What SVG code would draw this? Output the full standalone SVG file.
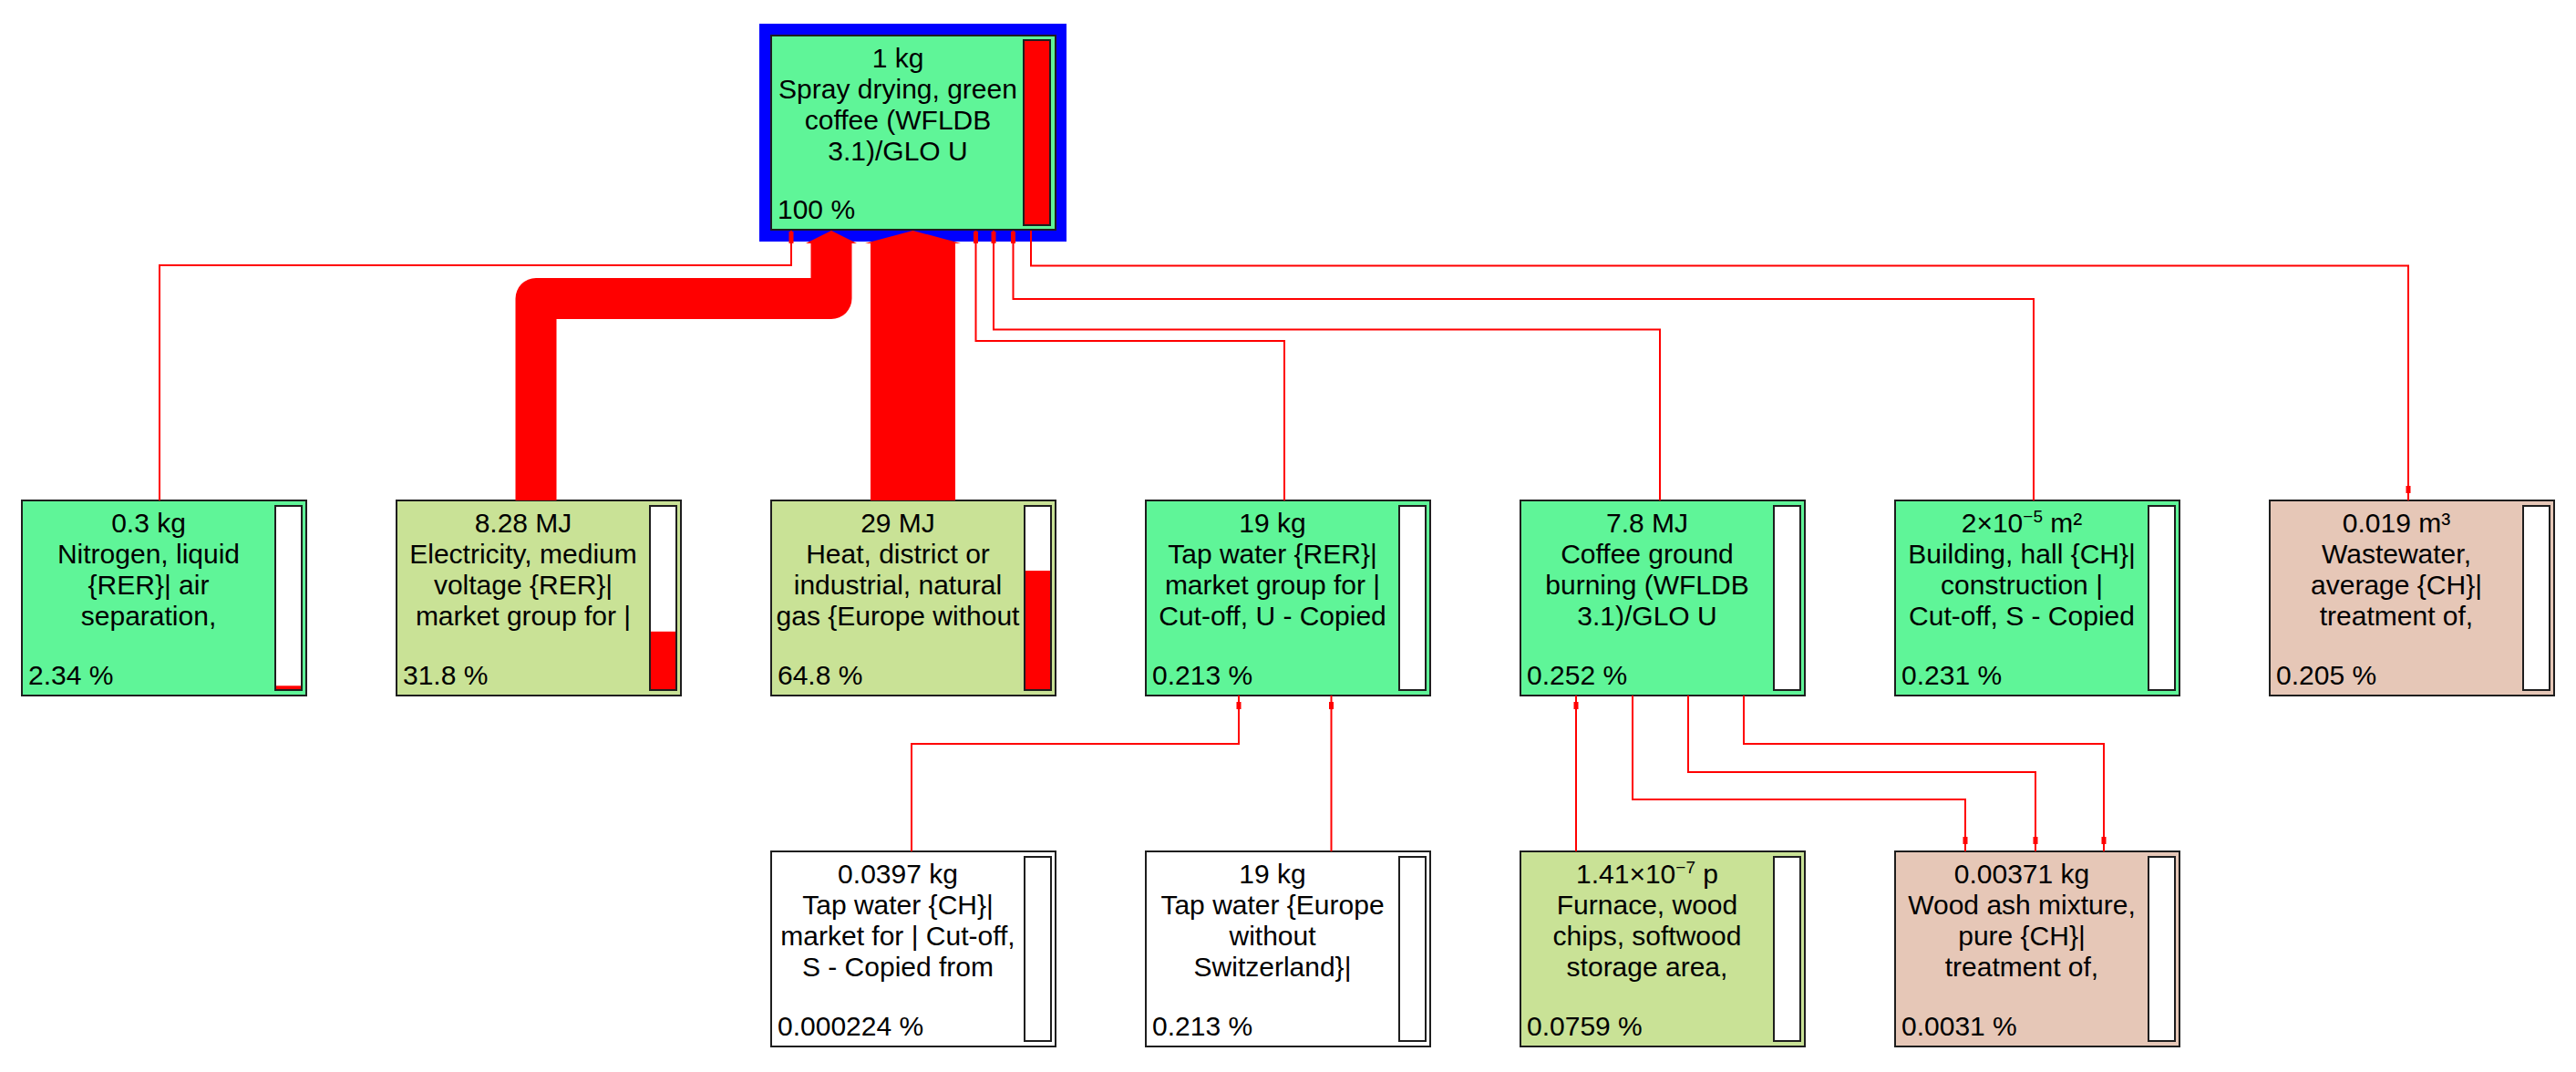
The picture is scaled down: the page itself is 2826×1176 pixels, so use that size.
<svg xmlns="http://www.w3.org/2000/svg" width="2826" height="1176" viewBox="0 0 2826 1176">
<style>
.box{stroke:#1e1e1e;stroke-width:2}
.g{fill:#5ff598}.o{fill:#c9e296}.p{fill:#e6c7b7}.w{fill:#ffffff}
.barbg{fill:#ffffff}
.barol{fill:none;stroke:#1e1e1e;stroke-width:2}
.rf{fill:#ff0000}
text{font-family:"Liberation Sans",Arial,sans-serif;font-size:30px;fill:#000000}
.c{text-anchor:middle}
.ln{fill:none;stroke:#ff0000;stroke-width:2}
.mk{fill:#ff0000}
.wide{fill:none;stroke:#ff0000;stroke-linejoin:round}
</style>
<rect width="2826" height="1176" fill="#ffffff"/>

<g id="n-spray" >
<rect x="833" y="26" width="337" height="239" fill="#0000ff"/>
<g transform="translate(846,39)">
<rect class="box g" width="312" height="213"/>
<rect class="rf" x="277" y="5" width="29" height="203"/>
<rect class="barol" x="277" y="5" width="29" height="203"/>
<text class="c" x="139" y="35">1 kg</text>
<text class="c" x="139" y="69">Spray drying, green</text>
<text class="c" x="139" y="103">coffee (WFLDB</text>
<text class="c" x="139" y="137">3.1)/GLO U</text>
<text x="7" y="201">100 %</text>
</g>
</g>

<g id="n-nitrogen" transform="translate(24,549)">
<rect class="box g" width="312" height="214"/>
<rect class="barbg" x="278" y="6" width="29" height="202"/>
<rect class="rf" x="278" y="203.3" width="29" height="4.7"/>
<rect class="barol" x="278" y="6" width="29" height="202"/>
<text class="c" x="139" y="35">0.3 kg</text>
<text class="c" x="139" y="69">Nitrogen, liquid</text>
<text class="c" x="139" y="103">{RER}| air</text>
<text class="c" x="139" y="137">separation,</text>
<text x="7" y="202">2.34 %</text>
</g>

<g id="n-electricity" transform="translate(435,549)">
<rect class="box o" width="312" height="214"/>
<rect class="barbg" x="278" y="6" width="29" height="202"/>
<rect class="rf" x="278" y="143.8" width="29" height="64.2"/>
<rect class="barol" x="278" y="6" width="29" height="202"/>
<text class="c" x="139" y="35">8.28 MJ</text>
<text class="c" x="139" y="69">Electricity, medium</text>
<text class="c" x="139" y="103">voltage {RER}|</text>
<text class="c" x="139" y="137">market group for |</text>
<text x="7" y="202">31.8 %</text>
</g>

<g id="n-heat" transform="translate(846,549)">
<rect class="box o" width="312" height="214"/>
<rect class="barbg" x="278" y="6" width="29" height="202"/>
<rect class="rf" x="278" y="77.1" width="29" height="130.9"/>
<rect class="barol" x="278" y="6" width="29" height="202"/>
<text class="c" x="139" y="35">29 MJ</text>
<text class="c" x="139" y="69">Heat, district or</text>
<text class="c" x="139" y="103">industrial, natural</text>
<text class="c" x="139" y="137">gas {Europe without</text>
<text x="7" y="202">64.8 %</text>
</g>

<g id="n-tapwater-rer" transform="translate(1257,549)">
<rect class="box g" width="312" height="214"/>
<rect class="barbg" x="278" y="6" width="29" height="202"/>
<rect class="barol" x="278" y="6" width="29" height="202"/>
<text class="c" x="139" y="35">19 kg</text>
<text class="c" x="139" y="69">Tap water {RER}|</text>
<text class="c" x="139" y="103">market group for |</text>
<text class="c" x="139" y="137">Cut-off, U - Copied</text>
<text x="7" y="202">0.213 %</text>
</g>

<g id="n-coffee-ground" transform="translate(1668,549)">
<rect class="box g" width="312" height="214"/>
<rect class="barbg" x="278" y="6" width="29" height="202"/>
<rect class="barol" x="278" y="6" width="29" height="202"/>
<text class="c" x="139" y="35">7.8 MJ</text>
<text class="c" x="139" y="69">Coffee ground</text>
<text class="c" x="139" y="103">burning (WFLDB</text>
<text class="c" x="139" y="137">3.1)/GLO U</text>
<text x="7" y="202">0.252 %</text>
</g>

<g id="n-building" transform="translate(2079,549)">
<rect class="box g" width="312" height="214"/>
<rect class="barbg" x="278" y="6" width="29" height="202"/>
<rect class="barol" x="278" y="6" width="29" height="202"/>
<text class="c" x="139" y="35">2×10<tspan font-size="19" dy="-11">−5</tspan><tspan dy="11"> m²</tspan></text>
<text class="c" x="139" y="69">Building, hall {CH}|</text>
<text class="c" x="139" y="103">construction |</text>
<text class="c" x="139" y="137">Cut-off, S - Copied</text>
<text x="7" y="202">0.231 %</text>
</g>

<g id="n-wastewater" transform="translate(2490,549)">
<rect class="box p" width="312" height="214"/>
<rect class="barbg" x="278" y="6" width="29" height="202"/>
<rect class="barol" x="278" y="6" width="29" height="202"/>
<text class="c" x="139" y="35">0.019 m³</text>
<text class="c" x="139" y="69">Wastewater,</text>
<text class="c" x="139" y="103">average {CH}|</text>
<text class="c" x="139" y="137">treatment of,</text>
<text x="7" y="202">0.205 %</text>
</g>

<g id="n-tapwater-ch" transform="translate(846,934)">
<rect class="box w" width="312" height="214"/>
<rect class="barbg" x="278" y="6" width="29" height="202"/>
<rect class="barol" x="278" y="6" width="29" height="202"/>
<text class="c" x="139" y="35">0.0397 kg</text>
<text class="c" x="139" y="69">Tap water {CH}|</text>
<text class="c" x="139" y="103">market for | Cut-off,</text>
<text class="c" x="139" y="137">S - Copied from</text>
<text x="7" y="202">0.000224 %</text>
</g>

<g id="n-tapwater-eu" transform="translate(1257,934)">
<rect class="box w" width="312" height="214"/>
<rect class="barbg" x="278" y="6" width="29" height="202"/>
<rect class="barol" x="278" y="6" width="29" height="202"/>
<text class="c" x="139" y="35">19 kg</text>
<text class="c" x="139" y="69">Tap water {Europe</text>
<text class="c" x="139" y="103">without</text>
<text class="c" x="139" y="137">Switzerland}|</text>
<text x="7" y="202">0.213 %</text>
</g>

<g id="n-furnace" transform="translate(1668,934)">
<rect class="box o" width="312" height="214"/>
<rect class="barbg" x="278" y="6" width="29" height="202"/>
<rect class="barol" x="278" y="6" width="29" height="202"/>
<text class="c" x="139" y="35">1.41×10<tspan font-size="19" dy="-11">−7</tspan><tspan dy="11"> p</tspan></text>
<text class="c" x="139" y="69">Furnace, wood</text>
<text class="c" x="139" y="103">chips, softwood</text>
<text class="c" x="139" y="137">storage area,</text>
<text x="7" y="202">0.0759 %</text>
</g>

<g id="n-woodash" transform="translate(2079,934)">
<rect class="box p" width="312" height="214"/>
<rect class="barbg" x="278" y="6" width="29" height="202"/>
<rect class="barol" x="278" y="6" width="29" height="202"/>
<text class="c" x="139" y="35">0.00371 kg</text>
<text class="c" x="139" y="69">Wood ash mixture,</text>
<text class="c" x="139" y="103">pure {CH}|</text>
<text class="c" x="139" y="137">treatment of,</text>
<text x="7" y="202">0.0031 %</text>
</g>

<g id="connectors">
<path class="wide" stroke-width="45" d="M588,549 V327.5 H912 V266"/>
<polygon class="mk" points="884,267 912,253 940,267"/>
<path class="wide" stroke-width="93" d="M1001.5,549 V266"/>
<polygon class="mk" points="949,267 1001.5,253 1054,267"/>
<path class="ln" d="M175,549 V291 H868 V253"/>
<rect class="mk" x="865.5" y="254" width="5" height="13"/>
<path class="ln" d="M1409,549 V374 H1070.5 V253"/>
<rect class="mk" x="1068" y="254" width="5" height="13"/>
<path class="ln" d="M1821,549 V361.5 H1090 V253"/>
<rect class="mk" x="1087.5" y="254" width="5" height="13"/>
<path class="ln" d="M2231,549 V328 H1111.5 V253"/>
<rect class="mk" x="1109" y="254" width="5" height="13"/>
<path class="ln" d="M1131,253 V291.5 H2642 V549"/>
<rect class="mk" x="2639.5" y="533" width="5" height="8"/>
<path class="ln" d="M1000,934 V816 H1359 V763"/>
<rect class="mk" x="1356.5" y="770" width="5" height="8"/>
<path class="ln" d="M1460.5,934 V763"/>
<rect class="mk" x="1458" y="770" width="5" height="8"/>
<path class="ln" d="M1729,934 V763"/>
<rect class="mk" x="1726.5" y="770" width="5" height="8"/>
<path class="ln" d="M1791,763 V877 H2156 V934"/>
<rect class="mk" x="2153.5" y="918" width="5" height="8"/>
<path class="ln" d="M1852,763 V847 H2233 V934"/>
<rect class="mk" x="2230.5" y="918" width="5" height="8"/>
<path class="ln" d="M1913,763 V816 H2308 V934"/>
<rect class="mk" x="2305.5" y="918" width="5" height="8"/>
</g>
</svg>
